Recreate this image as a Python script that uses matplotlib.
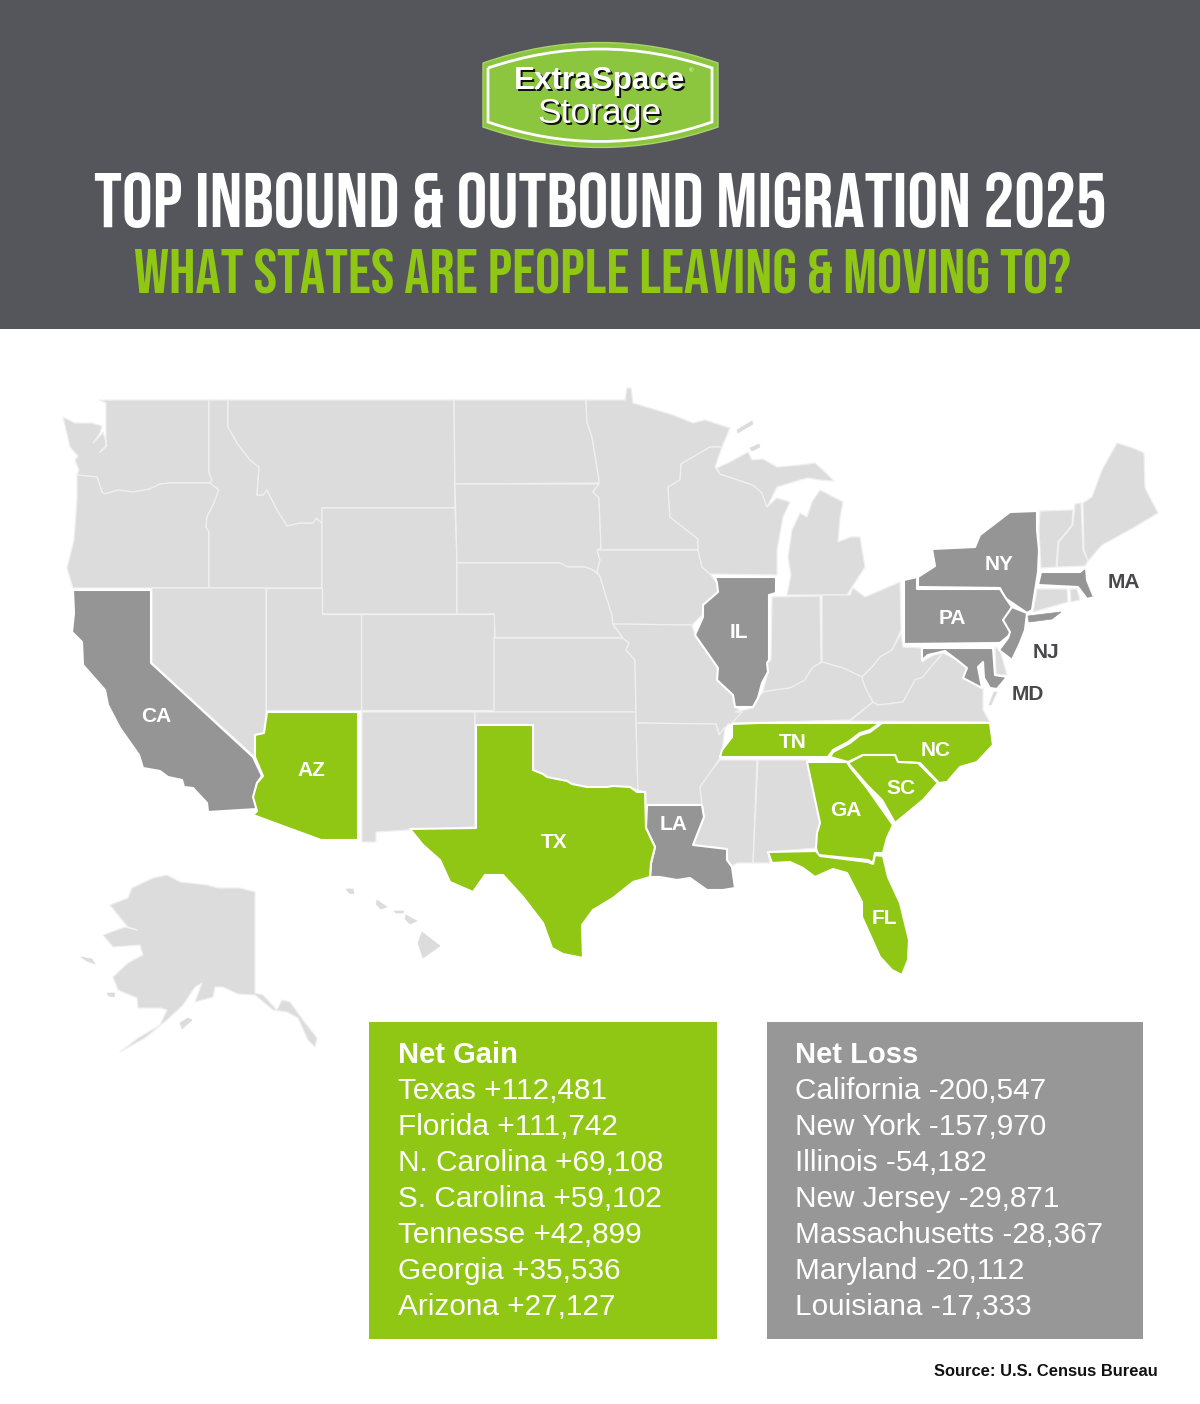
import matplotlib
matplotlib.use("Agg")
import matplotlib.pyplot as plt
from matplotlib import font_manager as fm
from matplotlib.patches import Polygon, Rectangle, PathPatch
from matplotlib.path import Path

HEADER = "#55565b"
GREEN = "#8fc714"
LOGO_GREEN = "#8cc63f"
PANEL_GRAY = "#979797"
DARK_STATE = "#959595"
LIGHT_STATE = "#dcdcdc"
LABEL_DARK = "#48484d"

TITLE = "TOP INBOUND & OUTBOUND MIGRATION 2025"
SUBTITLE = "WHAT STATES ARE PEOPLE LEAVING & MOVING TO?"

gain_names = ["Texas", "Florida", "N. Carolina", "S. Carolina", "Tennesse", "Georgia", "Arizona"]
gain_values = [112481, 111742, 69108, 59102, 42899, 35536, 27127]
loss_names = ["California", "New York", "Illinois", "New Jersey", "Massachusetts", "Maryland", "Louisiana"]
loss_values = [200547, 157970, 54182, 29871, 28367, 20112, 17333]

# state outlines, in image pixels
WA = [(99,400),(209,400),(209,473),(212,480),(210,483),(170,483),(160,484),(150,489),(133,492),(118,490),(105,494),(102,492),(97,477),(87,476),(77,475),(79,470),(75,460),(78,456),(70,447),(63,417),(75,423),(92,423),(102,426),(100,433),(93,443),(101,435),(103,432),(107,445),(100,452),(106,446),(106,403)]
OR = [(77,475),(87,476),(97,477),(102,492),(105,494),(118,490),(133,492),(150,489),(160,484),(170,483),(210,483),(219,490),(213,505),(207,517),(206,527),(209,532),(209,588),(73,588),(67,568),(74,540),(77,500)]
ID = [(209,400),(228,400),(228,427),(237,443),(250,460),(259,467),(257,495),(263,495),(267,490),(277,510),(287,526),(300,523),(313,523),(316,518),(322,523),(322,588),(209,588),(209,532),(206,527),(207,517),(213,505),(219,490),(210,483),(212,480),(209,473)]
MT = [(228,400),(454,400),(455,508),(322,508),(322,523),(316,518),(313,523),(300,523),(287,526),(277,510),(267,490),(263,495),(257,495),(259,467),(250,460),(237,443),(228,427)]
WY = [(322,508),(455,508),(457,563),(457,614),(322,614)]
ND = [(454,400),(586,400),(587,422),(592,437),(599,480),(599,483),(455,484)]
SD = [(455,484),(599,484),(593,492),(599,498),(601,548),(597,550),(600,560),(597,572),(600,576),(593,570),(585,567),(568,567),(560,563),(457,563)]
NE = [(457,563),(560,563),(568,567),(585,567),(593,570),(600,576),(605,593),(612,615),(613,625),(623,638),(495,638),(494,614),(457,614)]
CO = [(361,614),(494,614),(494,710),(361,710)]
UT = [(266,588),(322,588),(322,614),(361,614),(361,710),(266,710)]
NV = [(152,588),(266,588),(266,733),(256,737),(255,757),(152,663)]
NM = [(362,712),(475,712),(475,827),(408,830),(376,832),(376,842),(362,842)]
KS = [(494,638),(623,638),(629,643),(626,650),(635,660),(636,712),(494,712)]
OK = [(475,712),(636,712),(636,723),(638,790),(630,787),(613,786),(607,787),(587,787),(572,784),(567,781),(547,777),(533,770),(533,725),(475,725)]
MN = [(586,400),(625,400),(627,388),(631,388),(633,403),(653,409),(673,415),(693,423),(705,420),(730,428),(722,447),(710,447),(681,464),(680,480),(668,487),(670,517),(698,539),(698,550),(598,550),(601,548),(599,498),(593,492),(599,484),(599,480),(592,437),(587,422)]
IA = [(597,550),(698,550),(702,567),(710,574),(717,583),(718,592),(703,605),(702,615),(692,625),(613,624),(612,615),(605,593),(600,576),(597,572),(600,560)]
WI = [(681,464),(710,447),(722,447),(715,467),(720,474),(753,485),(762,493),(767,507),(777,498),(790,502),(783,517),(777,550),(777,575),(710,574),(702,567),(698,550),(698,539),(670,517),(668,487),(680,480)]
MO = [(613,624),(692,625),(695,635),(718,668),(717,680),(733,695),(735,707),(742,712),(735,724),(728,724),(720,735),(716,724),(636,723),(636,712),(635,660),(626,650),(629,643),(623,638)]
AR = [(636,723),(716,724),(719,735),(725,727),(722,752),(720,758),(712,770),(700,787),(702,805),(646,805),(646,792),(638,790)]
MS = [(720,760),(757,760),(753,863),(737,863),(732,866),(727,860),(727,849),(693,845),(704,817),(702,805),(700,787),(712,770)]
AL = [(758,760),(807,760),(820,823),(816,848),(768,852),(770,863),(753,863)]
MI_UP = [(717,468),(730,462),(748,452),(752,460),(763,459),(777,467),(800,465),(815,463),(825,472),(834,481),(820,480),(808,478),(800,480),(777,487),(767,507),(762,493),(753,485),(720,474)]
MI_LP = [(787,595),(847,595),(850,590),(865,567),(860,537),(851,537),(838,542),(840,518),(843,502),(820,490),(812,502),(807,517),(800,513),(792,530),(788,557),(791,575)]
ISLE_A = [(737,430),(752,421),(753,424),(738,433)]
ISLE_B = [(750,448),(759,444),(760,447),(752,451)]
IN = [(772,597),(820,596),(821,662),(812,668),(805,680),(790,688),(775,690),(763,692),(768,672),(767,663),(771,660)]
OH = [(822,595),(850,595),(853,588),(865,597),(900,582),(901,630),(892,650),(880,657),(872,667),(862,677),(843,668),(822,662)]
KY = [(735,712),(753,708),(758,698),(763,692),(775,690),(790,688),(805,680),(812,668),(822,662),(843,668),(862,677),(865,687),(873,702),(850,720),(732,723),(742,712)]
WV = [(862,677),(872,667),(880,657),(892,650),(901,634),(903,647),(921,648),(922,662),(934,655),(943,653),(930,668),(923,677),(915,680),(903,702),(878,705),(873,702),(865,687)]
VA = [(850,721),(873,702),(878,705),(903,702),(915,680),(923,677),(930,668),(943,653),(957,660),(967,668),(963,677),(983,688),(983,710),(990,722)]
VA_SHORE = [(994,692),(997,692),(991,705),(989,705)]
DE = [(995,647),(1000,650),(1007,675),(996,675)]
CT = [(1037,589),(1067,589),(1068,602),(1033,612)]
RI = [(1070,589),(1077,589),(1080,600),(1071,602)]
VT = [(1040,511),(1073,510),(1072,525),(1058,542),(1056,567),(1041,568),(1040,550),(1039,530)]
NH = [(1075,504),(1081,503),(1083,550),(1088,561),(1085,566),(1057,567),(1059,542),(1073,525)]
ME = [(1083,503),(1092,497),(1102,470),(1117,443),(1133,448),(1144,453),(1145,488),(1158,513),(1133,528),(1102,545),(1088,561),(1084,550)]
AK = [(167,875),(180,882),(207,885),(218,888),(240,888),(255,892),(255,993),(263,995),(277,1010),(282,1000),(290,1002),(303,1020),(317,1038),(315,1047),(308,1040),(298,1018),(287,1012),(273,1010),(255,995),(238,994),(223,987),(215,987),(213,997),(195,1002),(202,983),(195,987),(183,1005),(167,1020),(145,1038),(120,1052),(138,1038),(160,1025),(167,1010),(160,1008),(138,1008),(137,998),(118,990),(113,977),(128,963),(137,958),(143,955),(140,945),(113,947),(103,935),(125,927),(137,930),(128,927),(122,920),(110,905),(128,898),(132,888),(153,878)]
AK_KODIAK = [(180,1023),(188,1018),(192,1020),(182,1029)]
AK_NUNIVAK = [(107,993),(115,993),(114,997),(109,996)]
AK_LAWRENCE = [(81,957),(92,959),(95,964),(87,961)]
HI_BIG = [(422,932),(440,946),(423,958),(418,943)]
HI_MAUI = [(406,915),(417,921),(410,924),(405,919)]
HI_MOLOKAI = [(394,911),(404,911),(403,913),(396,913)]
HI_OAHU = [(377,900),(387,907),(381,909),(376,904)]
HI_KAUAI = [(346,889),(353,889),(354,894),(349,893)]

CA = [(73,590),(151,590),(151,663),(253,757),(262,776),(257,783),(255,797),(257,809),(208,812),(207,803),(193,788),(184,787),(182,780),(168,777),(160,771),(143,768),(139,755),(120,728),(108,705),(105,690),(83,665),(82,642),(72,632),(74,613)]
IL = [(715,577),(776,577),(776,593),(769,595),(769,660),(767,663),(768,672),(762,683),(758,698),(753,707),(735,707),(733,695),(717,680),(718,668),(695,635),(703,617),(703,605),(718,592),(717,583)]
LA = [(647,805),(702,805),(704,817),(693,845),(727,849),(727,860),(732,867),(735,888),(723,890),(707,890),(690,878),(677,880),(660,877),(650,877),(651,863),(655,847),(646,828)]
NY = [(918,587),(918,577),(935,566),(932,549),(975,547),(980,535),(1010,512),(1037,511),(1037,530),(1039,550),(1038,572),(1032,610),(1027,613),(1005,598),(1000,588)]
NY_LI = [(1028,616),(1061,612),(1052,619),(1029,622)]
PA = [(904,580),(917,577),(917,589),(1000,589),(1007,600),(1012,607),(1005,620),(1012,633),(1000,643),(904,644)]
NJ = [(1012,607),(1027,613),(1025,630),(1020,643),(1012,660),(999,650),(1008,638),(1010,632),(1003,620)]
MD = [(922,648),(993,648),(995,675),(1007,677),(1002,683),(997,689),(990,688),(984,678),(983,662),(978,667),(982,688),(963,678),(967,668),(957,660),(945,651),(928,655),(922,660)]
MA = [(1041,572),(1080,572),(1086,567),(1087,580),(1093,595),(1102,595),(1087,599),(1078,587),(1038,585)]

AZ = [(267,712),(358,712),(358,840),(321,840),(253,815),(257,811),(253,797),(257,783),(263,776),(255,757),(255,735),(264,733)]
TX = [(476,725),(533,725),(533,770),(543,774),(547,777),(567,781),(572,784),(587,787),(607,787),(613,786),(630,787),(637,792),(645,792),(646,828),(655,847),(651,863),(650,877),(633,882),(613,898),(593,910),(582,925),(583,958),(563,954),(552,948),(543,923),(523,897),(503,875),(485,875),(473,892),(450,882),(440,860),(423,845),(410,829),(476,828)]
TN = [(732,724),(758,723),(880,723),(870,730),(860,733),(848,742),(833,750),(828,757),(720,757),(722,750),(732,737)]
NC = [(882,723),(990,723),(993,745),(977,762),(960,767),(947,782),(939,783),(920,763),(898,762),(895,755),(863,755),(848,762),(830,757),(833,752),(850,743),(860,735),(870,732)]
SC = [(848,763),(863,755),(895,755),(898,762),(918,763),(938,783),(923,800),(895,823),(882,800),(867,785)]
GA = [(807,762),(847,762),(850,767),(867,788),(893,825),(887,838),(883,853),(875,853),(873,863),(868,860),(818,855),(816,848),(817,833),(820,823)]
FL = [(768,852),(816,851),(820,856),(868,862),(873,864),(875,855),(883,856),(888,877),(900,903),(909,940),(908,960),(902,975),(892,970),(880,957),(862,917),(862,902),(847,873),(833,869),(815,877),(803,868),(790,862),(772,863)]

light_states = [WA, OR, ID, MT, WY, ND, SD, NE, CO, UT, NV, NM, KS, OK, MN, IA, WI, MO, AR, MS, AL,
                MI_UP, MI_LP, IN, OH, KY, WV, VA, DE, CT, RI, VT, NH, ME, AK]
light_small = [ISLE_A, ISLE_B, VA_SHORE, AK_KODIAK, AK_NUNIVAK, AK_LAWRENCE,
               HI_BIG, HI_MAUI, HI_MOLOKAI, HI_OAHU, HI_KAUAI]
loss_states = [CA, IL, LA, NY, PA, NJ, MD, MA]
gain_states = [AZ, TX, TN, NC, SC, GA, FL]

white_labels = ["CA", "AZ", "TX", "LA", "TN", "NC", "SC", "GA", "FL", "IL", "NY", "PA"]
white_label_x = [156, 311, 554, 674, 793, 936, 901, 846, 884, 739, 999, 952]
white_label_y = [716, 769, 841, 824, 741, 750, 787, 810, 918, 632, 564, 617]
dark_labels = ["MA", "NJ", "MD"]
dark_label_x = [1124, 1046, 1028]
dark_label_y = [582, 652, 693]

installed = {f.name for f in fm.fontManager.ttflist}
HEAD_FONT = next((n for n in ["Bebas Neue", "Oswald", "Antonio", "Sofia Sans Extra Condensed"] if n in installed), "Liberation Sans")
SANS = "Liberation Sans"

fig = plt.figure(figsize=(12, 14.04), dpi=100, facecolor="white")
ax = fig.add_axes([0, 0, 1, 1])
ax.set_xlim(0, 1200)
ax.set_ylim(1404, 0)
ax.axis("off")

ax.add_patch(Rectangle((0, 0), 1200, 329, fc=HEADER, ec="none"))

# logo
def logo_path(x0, x1, ytop, ybot, ypeak, ylow):
    xm = (x0 + x1) / 2
    verts = [(x0, ytop), (xm, ypeak), (x1, ytop), (x1, ybot), (xm, ylow), (x0, ybot), (x0, ytop)]
    codes = [Path.MOVETO, Path.CURVE3, Path.CURVE3, Path.LINETO, Path.CURVE3, Path.CURVE3, Path.LINETO]
    return Path(verts, codes)

ax.add_patch(PathPatch(logo_path(483, 718, 63, 127, 22, 168), fc=LOGO_GREEN, ec="#a9d46a", lw=1))
ax.add_patch(PathPatch(logo_path(488, 712, 68, 122, 30, 161), fc="none", ec="white", lw=2.0))
for dx, col in [(2, "#111111"), (0, "white")]:
    ax.text(600 + dx, 81 + dx, "ExtraSpace", family=SANS, weight="bold", fontsize=22.6, color=col,
            ha="center", va="center")
    ax.text(600 + dx, 114 + dx, "Storage", family=SANS, fontsize=25.5, color=col, ha="center", va="center")
ax.text(691, 71, "®", family=SANS, fontsize=4.5, color="white", ha="center", va="center")

ax.text(600, 200, TITLE, family=HEAD_FONT, fontsize=55.6, color="white", ha="center", va="center")
ax.text(602, 272, SUBTITLE, family=HEAD_FONT, fontsize=45.3, color=GREEN, ha="center", va="center")

# map
for s in light_states:
    ax.add_patch(Polygon(s, closed=True, fc=LIGHT_STATE, ec="#f0f0f0", lw=0.9, joinstyle="round"))
for s in light_small:
    ax.add_patch(Polygon(s, closed=True, fc=LIGHT_STATE, ec=LIGHT_STATE, lw=0.5, joinstyle="round"))
for s in loss_states:
    ax.add_patch(Polygon(s, closed=True, fc=DARK_STATE, ec="white", lw=1.5, joinstyle="round"))
ax.add_patch(Polygon(NY_LI, closed=True, fc=DARK_STATE, ec=DARK_STATE, lw=0.5))
for s in gain_states:
    ax.add_patch(Polygon(s, closed=True, fc=GREEN, ec="white", lw=1.5, joinstyle="round"))

for t, x, y in zip(white_labels, white_label_x, white_label_y):
    ax.text(x, y + 1, t, family=SANS, weight="bold", fontsize=15, color="white", ha="center", va="center")
for t, x, y in zip(dark_labels, dark_label_x, dark_label_y):
    ax.text(x, y + 1, t, family=SANS, weight="bold", fontsize=15, color=LABEL_DARK, ha="center", va="center")

# the two tables
ax.add_patch(Rectangle((369, 1022), 348, 317, fc=GREEN, ec="none"))
ax.add_patch(Rectangle((767, 1022), 376, 317, fc=PANEL_GRAY, ec="none"))

ax.text(398, 1055, "Net Gain", family=SANS, weight="bold", fontsize=21, color="white", va="center")
ax.text(795, 1055, "Net Loss", family=SANS, weight="bold", fontsize=21, color="white", va="center")
for i, (n, v) in enumerate(zip(gain_names, gain_values)):
    ax.text(398, 1091 + 36 * i, f"{n} +{v:,}", family=SANS, fontsize=21.4, color="white", va="center")
for i, (n, v) in enumerate(zip(loss_names, loss_values)):
    ax.text(795, 1091 + 36 * i, f"{n} -{v:,}", family=SANS, fontsize=21.4, color="white", va="center")

ax.text(1158, 1371, "Source: U.S. Census Bureau", family=SANS, weight="bold", fontsize=11.9, color="#111111",
        ha="right", va="center")

fig.savefig("out.png", dpi=100)
